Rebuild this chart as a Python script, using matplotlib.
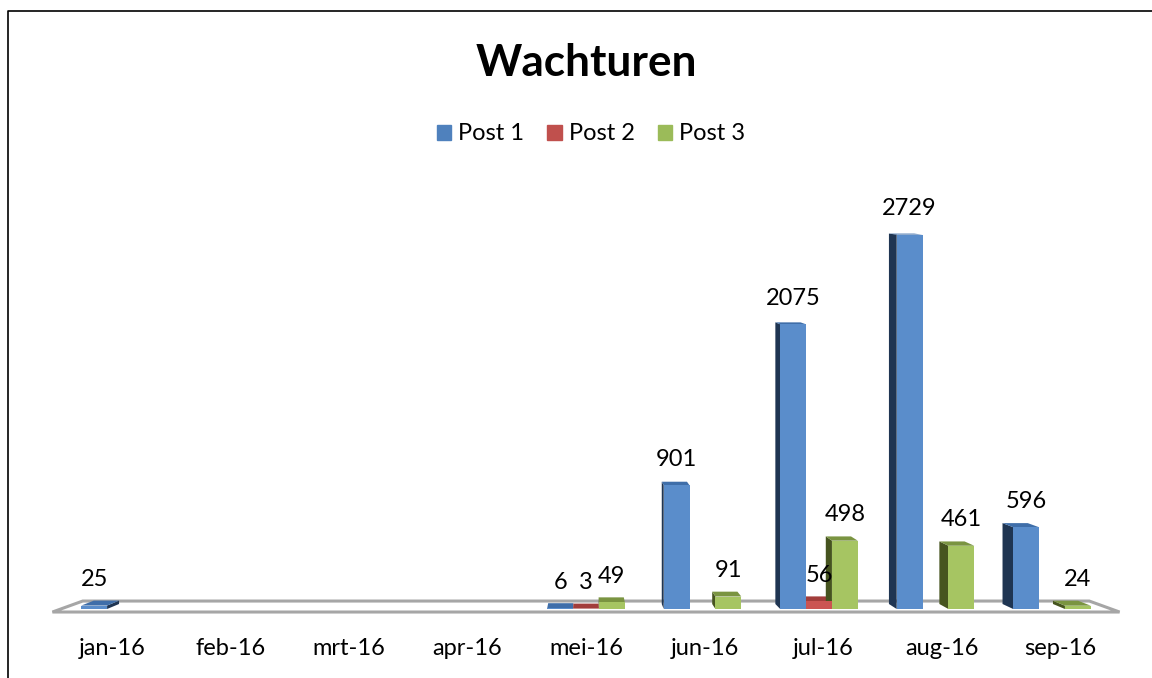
import matplotlib
matplotlib.use('Agg')
import matplotlib.pyplot as plt
from matplotlib.patches import Polygon, Patch

plt.rcParams['font.family'] = ['Lato', 'DejaVu Sans']

months = ['jan-16', 'feb-16', 'mrt-16', 'apr-16', 'mei-16', 'jun-16', 'jul-16', 'aug-16', 'sep-16']
post1 = [25, None, None, None, 6, 901, 2075, 2729, 596]
post2 = [None, None, None, None, 3, None, 56, None, None]
post3 = [None, None, None, None, 49, 91, 498, 461, 24]
series_names = ['Post 1', 'Post 2', 'Post 3']

# front, side, top colours for each series
colors = [('#5a8dcb', '#1f3552', '#3f6ea9'),
          ('#cb5452', '#7d2f2e', '#a23d3b'),
          ('#a6c562', '#46541f', '#7a9441')]
legend_colors = ['#4f81bd', '#c0504d', '#9bbb59']

bar_w = 0.222   # in category units
offsets = [-bar_w, 0, bar_w]

# fake perspective: everything moves towards a vanishing point going back
vx, vy = 4.0, 3400.0
kx, ky = 0.025, 0.0107

def back(x, y):
    return x + (vx - x)*kx, y + (vy - y)*ky

fig = plt.figure(figsize=(11.52, 6.78), dpi=100)
ax = fig.add_axes([0, 0, 1, 1])
ax.set_xlim(-120/116.5, (1152 - 120)/116.5)
ax.set_ylim(-69/0.1372, 609/0.1372)
ax.axis('off')

# floor outline
floor = [(-0.58, -22), (8.58, -22), (8.32, 58), (-0.32, 58)]
ax.add_patch(Polygon(floor, closed=True, fill=False, edgecolor='#a6a6a6', lw=2.2, zorder=1, joinstyle='miter'))

z = 2
for s, vals in enumerate([post1, post2, post3]):
    front_c, side_c, top_c = colors[s]
    for i, v in enumerate(vals):
        if v is None:
            continue
        x0 = i + offsets[s] - bar_w/2
        x1 = x0 + bar_w
        # side face is the one turned to the vanishing point
        xs = x1 if x1 < vx else x0
        bx, b0 = back(xs, 0)
        bx, b1 = back(xs, v)
        ax.add_patch(Polygon([(xs, 0), (xs, v), (bx, b1), (bx, b0)], color=side_c, lw=0, zorder=z))
        bx0, by = back(x0, v)
        bx1, by = back(x1, v)
        ax.add_patch(Polygon([(x0, v), (x1, v), (bx1, by), (bx0, by)], color=top_c, lw=0, zorder=z))
        # fronts always cover the side of the next bar
        ax.bar(i + offsets[s], v, width=bar_w, color=front_c, linewidth=0, zorder=50)
        ax.annotate(str(v), (i + offsets[s], v), xytext=(0, 18.8), textcoords='offset points',
                    ha='center', va='center', fontsize=17, color='black', zorder=60)
        z += 1

# category labels sit slightly wider than the bars
for i, m in enumerate(months):
    ax.annotate(m, (4 + (i - 4)*118.5/116.5, 0), xytext=(0, -28.2), textcoords='offset points',
                ha='center', va='center', fontsize=17, color='black')

ax.text(586/1152, 1 - 63.5/678, 'Wachturen', transform=ax.transAxes, ha='center', va='center',
        fontsize=31.8, fontweight='bold', color='black')

handles = [Patch(color=c, label=n) for c, n in zip(legend_colors, series_names)]
ax.legend(handles=handles, ncol=3, frameon=False, loc='center', bbox_to_anchor=(591/1152, 1 - 134/678),
          fontsize=17, handlelength=0.6, handleheight=0.6, handletextpad=0.3, columnspacing=1.0)

# border of the pasted chart
ax.plot([8/1152, 8/1152, 1], [0, 1 - 10.5/678, 1 - 10.5/678], transform=ax.transAxes, color='black', lw=1.2, clip_on=False)

fig.savefig('out.png', dpi=100)
